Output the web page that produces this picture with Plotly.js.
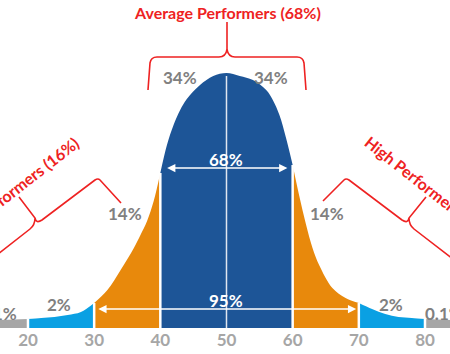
<!DOCTYPE html>
<html><head><meta charset="utf-8">
<script src="https://cdn.plot.ly/plotly-3.0.1.min.js"></script>
<style>html,body{margin:0;padding:0;background:#fff}#chart{width:450px;height:354px}</style>
</head><body><div id="chart"></div>
<script>
// curve: score vs. height (px above baseline)
const curveX = [15.7,20,22,24,26,28,30,32,34,36,37,38,39,40,41,42,43,44,46,48,50,52,54,56,57,58,59,60,61,62,63,64,66,68,70,72,74,76,78,80,84];
const curveY = [8,9,10,11,13,16,25,38,58,80,93,107,127,155,183,203,218,229,243,252,255,252,248,238,228,213,190,163,132,104,80,63,40,30,25,19,14,11,10,9,8];
const bandEdges = [15.7,20,30,40,60,70,80,84];
const bandColors = ['#a6a6a6','#0aa0e3','#e8890c','#1d5597','#e8890c','#0aa0e3','#a6a6a6'];
const dividerX = [20,30,40,60,70,80];
const centerX = [50];
const tickVals = [20,30,40,50,60,70,80];
const tickText = ['20','30','40','50','60','70','80'];
const pctLabels = ['0.1%','2%','14%','34%','34%','14%','2%','0.1%'];
const pctX = [16.0,24.7,34.7,42.9,56.8,65.2,74.8,82.9];
const pctY = [15,24,115,251,251,115,24,15];
const spanLabels = ['68%','95%'];
const spanFrom = [40.8,30.4];
const spanTo = [59.2,69.6];
const spanY = [160,19];
const groupLabels = ['Average Performers (68%)','Low Performers (16%)','High Performers (16%)'];

const RED = '#ee2222';
function hAt(x){ const i = curveX.indexOf(x); return curveY[i]; }

const traces = [];
for (let b = 0; b < bandColors.length; b++) {
  const a = bandEdges[b], e = bandEdges[b+1];
  const xs = [], ys = [];
  curveX.forEach((x,i)=>{ if (x>=a && x<=e){ xs.push(x); ys.push(curveY[i]); } });
  traces.push({x:xs, y:ys, type:'scatter', mode:'lines', fill:'tozeroy',
    fillcolor:bandColors[b], line:{width:0, shape:'spline', color:bandColors[b]}, hoverinfo:'skip'});
}
function vlines(arr){ const xs=[],ys=[]; arr.forEach(d=>{xs.push(d,d,null); ys.push(0,hAt(d),null);}); return {xs,ys}; }
const dv = vlines(dividerX);
traces.push({x:dv.xs, y:dv.ys, type:'scatter', mode:'lines', line:{color:'#ffffff', width:2.5}, hoverinfo:'skip'});
const cv = vlines(centerX);
traces.push({x:cv.xs, y:cv.ys.map(v=>v===null?null:(v>0?v-3:v)), type:'scatter', mode:'lines', line:{color:'#dfe6f0', width:1.5}, hoverinfo:'skip'});
traces.push({x:[], y:[], type:'scatter', mode:'markers', xaxis:'x2', yaxis:'y2', hoverinfo:'skip'});

const annotations = [];
pctLabels.forEach((t,i)=>{
  annotations.push({x:pctX[i], y:pctY[i], xref:'x', yref:'y', text:t, showarrow:false,
    xshift: i===0 ? -4 : 0,
    font:{family:'Lato', size:17, color:'#808080', weight:700}});
});
spanLabels.forEach((t,i)=>{
  annotations.push({x:spanTo[i], y:spanY[i], ax:spanFrom[i], ay:spanY[i], xref:'x', yref:'y', axref:'x', ayref:'y',
    text:'', showarrow:true, arrowside:'end+start', arrowhead:2, startarrowhead:2, arrowsize:1.1, startarrowsize:1.1,
    arrowwidth:1.5, arrowcolor:'#ffffff'});
  annotations.push({x:50, y:spanY[i], yshift:9, xref:'x', yref:'y', text:t, showarrow:false,
    font:{family:'Lato', size:17, color:'#ffffff', weight:700}});
});
annotations.push({x:227, y:12, xref:'x2', yref:'y2', text:groupLabels[0], showarrow:false,
  font:{family:'Lato', size:16, color:RED, weight:700}});
annotations.push({x:14, y:189.5, xref:'x2', yref:'y2', text:groupLabels[1], showarrow:false, textangle:-38,
  font:{family:'Lato', size:16, color:RED, weight:700}});
annotations.push({x:431, y:189.5, xref:'x2', yref:'y2', text:groupLabels[2], showarrow:false, textangle:38,
  font:{family:'Lato', size:16, color:RED, weight:700}});

const braceLine = {color:RED, width:1.6};
const shapes = [
  {type:'path', xref:'x2', yref:'y2', line:braceLine,
   path:'M148,90 L150,63 Q151,57 157,57 L219,57 Q226,57 227,49 L227,22 M227,49 Q228,57 235,57 L297,57 Q303,57 304,63 L306,90'},
  {type:'path', xref:'x2', yref:'y2', line:braceLine,
   path:'M121,203 L100,180 Q98,178 95,180 L42,220 Q36,224 35,218 L19,197 M35,218 Q35,225 30,229 L-20,268'},
  {type:'path', xref:'x2', yref:'y2', line:braceLine,
   path:'M323,201 L344,180 Q346,178 349,180 L402,220 Q408,224 409,218 L426,197 M409,218 Q409,225 414,229 L470,272'}
];

const layout = {
  width:450, height:354, margin:{l:0,r:0,t:0,b:26},
  paper_bgcolor:'#ffffff', plot_bgcolor:'#ffffff', showlegend:false,
  xaxis:{range:[15.77,83.78], tickvals:tickVals, ticktext:tickText, ticks:'', showgrid:false, zeroline:false, showline:false,
    tickfont:{family:'Lato', size:17, color:'#a6a6a6', weight:700}, fixedrange:true},
  yaxis:{range:[0,328], visible:false, fixedrange:true},
  xaxis2:{overlaying:'x', range:[0,450], visible:false},
  yaxis2:{overlaying:'y', range:[328,0], visible:false},
  annotations, shapes
};
Plotly.newPlot('chart', traces, layout, {displayModeBar:false, staticPlot:true});
</script></body></html>
